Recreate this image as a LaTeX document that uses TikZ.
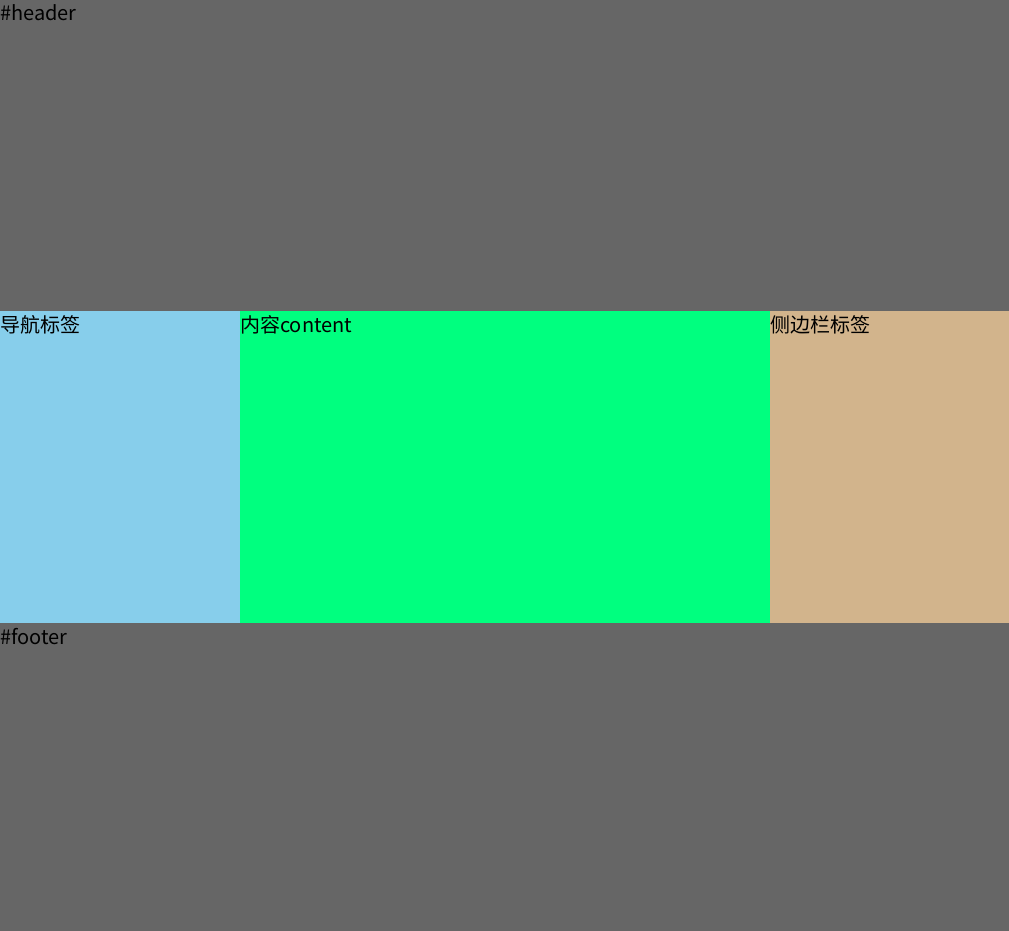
\documentclass[tikz,border=0pt]{standalone}
\usepackage{fontspec}
\setmainfont{Noto Sans CJK SC}
\definecolor{hdr}{HTML}{666666}
\definecolor{navc}{HTML}{87CEEB}
\definecolor{contc}{HTML}{00FF7F}
\definecolor{sidec}{HTML}{D2B48C}
\tikzset{
  block/.style={inner sep=0pt, outer sep=0pt, draw=none},
  lbl/.style={anchor=base west, inner sep=0pt, font=\fontsize{20pt}{24pt}\selectfont, text=black}
}
\begin{document}
\begin{tikzpicture}[x=1pt,y=1pt]
\useasboundingbox (0,0) rectangle (1009,-931);
\fill[hdr] (0,0) rectangle (1009,-311);
\fill[navc] (0,-311) rectangle (240,-623);
\fill[contc] (240,-311) rectangle (770,-623);
\fill[sidec] (770,-311) rectangle (1009,-623);
\fill[hdr] (0,-623) rectangle (1009,-931);
\node[lbl] (header) at (0,-21) {\#header};
\node[lbl] (nav) at (0,-332.5) {导航标签};
\node[lbl] (content) at (240,-332.5) {内容content};
\node[lbl] (side) at (770,-332.5) {侧边栏标签};
\node[lbl] (footer) at (0,-644) {\#footer};
\end{tikzpicture}
\end{document}
